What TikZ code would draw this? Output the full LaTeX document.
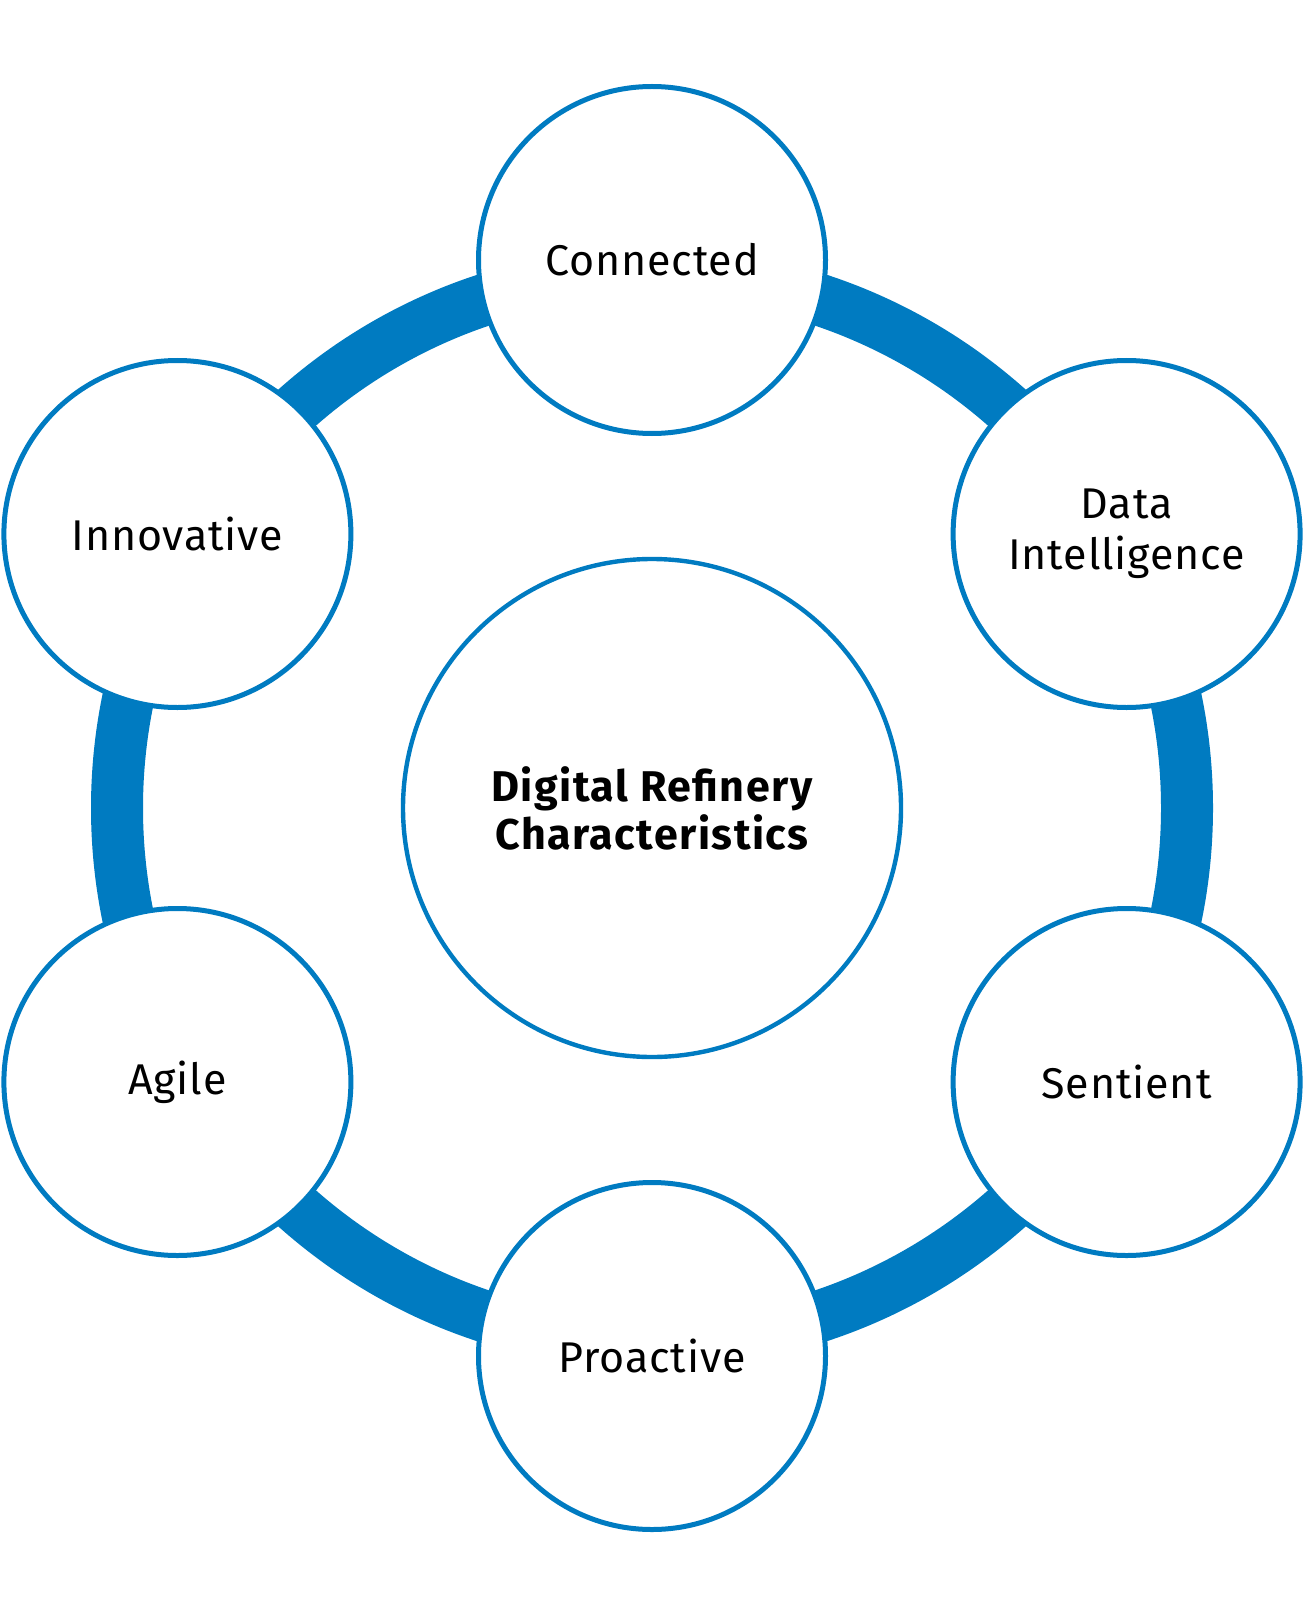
\documentclass[tikz,border=0pt]{standalone}
\usepackage{fontspec}
\setmainfont{Fira Sans}[LetterSpace=2, BoldFeatures={LetterSpace=3.5}]
\usetikzlibrary{backgrounds}
\definecolor{ringblue}{RGB}{0,123,193}
\tikzset{
  sat/.style={circle, draw=ringblue, line width=2.5pt, fill=white, minimum size=173.5pt, inner sep=0pt, align=center, font=\fontsize{21.5}{25.5}\selectfont, text=black},
  hubnode/.style={circle, draw=ringblue, line width=2.2pt, fill=white, minimum size=249pt, inner sep=0pt, align=center, font=\fontsize{21.5}{24}\selectfont\bfseries, text=black},
  ringband/.style={draw=ringblue, line width=26pt}
}
\begin{document}
\begin{tikzpicture}[x=0.5pt,y=-0.5pt]
\useasboundingbox (0,0) rectangle (1304,1615);
\node[hubnode] (hub) at (652,808) {Digital Refinery\\Characteristics};
\node[sat] (conn) at (652,260) {Connected};
\node[sat] (data) at (1126.6,534) {Data\\Intelligence};
\node[sat] (sent) at (1126.6,1082) {Sentient};
\node[sat] (proa) at (652,1356) {Proactive};
\node[sat] (agil) at (177.4,1082) {Agile};
\node[sat] (inno) at (177.4,534) {Innovative};
\begin{scope}[on background layer]
\draw[ringband] (hub.center) circle[radius=267.5pt];
\end{scope}
\end{tikzpicture}
\end{document}
